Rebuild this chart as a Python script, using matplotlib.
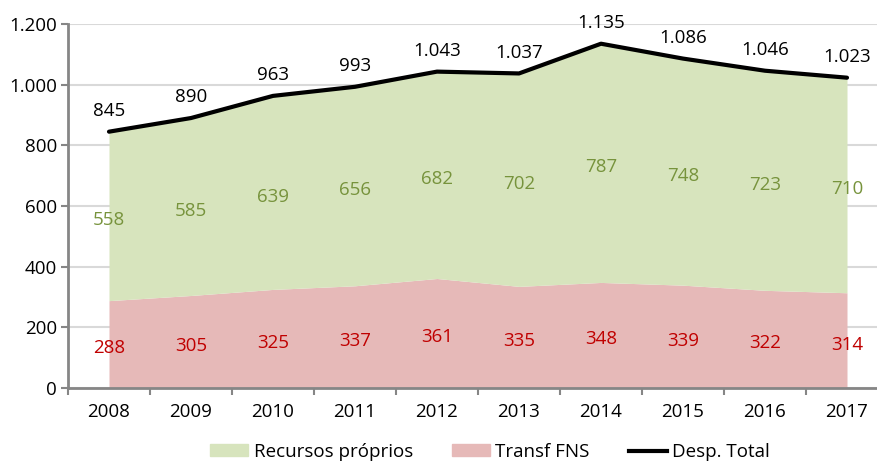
import numpy as np
import matplotlib
matplotlib.use("Agg")
import matplotlib.pyplot as plt
from matplotlib.patches import Patch
from matplotlib.lines import Line2D

plt.rcParams['font.family'] = ['Open Sans', 'DejaVu Sans']

# Despesa com saúde por fonte (R$ milhões)
anos = ["2008", "2009", "2010", "2011", "2012", "2013", "2014", "2015", "2016", "2017"]
transf_fns = [288, 305, 325, 337, 361, 335, 348, 339, 322, 314]
recursos_proprios = [558, 585, 639, 656, 682, 702, 787, 748, 723, 710]
desp_total = [845, 890, 963, 993, 1043, 1037, 1135, 1086, 1046, 1023]
yticks = [0, 200, 400, 600, 800, 1000, 1200]

cor_verde = "#d7e4bd"
cor_rosa = "#e6b9b8"
cor_txt_verde = "#77933c"
cor_txt_vermelho = "#c00000"
cor_eixo = "#868686"
fs = 13.5


def fmt(v):
    return f"{v:,}".replace(",", ".")


fig = plt.figure(figsize=(8.77, 4.63), dpi=100)
ax = fig.add_axes([68 / 877, 75 / 463, 820 / 877, 364 / 463])

x = np.arange(len(anos))
base = np.array(transf_fns)
topo = base + np.array(recursos_proprios)

ax.fill_between(x, 0, base, color=cor_rosa, lw=0, zorder=2)
ax.fill_between(x, base, topo, color=cor_verde, lw=0, zorder=2)
ax.plot(x, desp_total, color="black", lw=3, solid_capstyle="round", zorder=4)

# rótulos de valores
for i in x:
    ax.annotate(fmt(transf_fns[i]), (i, base[i] / 2), xytext=(0, -3),
                textcoords="offset points", ha="center", va="center",
                color=cor_txt_vermelho, fontsize=fs, zorder=5)
    ax.annotate(fmt(recursos_proprios[i]), (i, base[i] + recursos_proprios[i] / 2),
                xytext=(0, -3), textcoords="offset points", ha="center", va="center",
                color=cor_txt_verde, fontsize=fs, zorder=5)
    ax.annotate(fmt(desp_total[i]), (i, desp_total[i]), xytext=(0, 15),
                textcoords="offset points", ha="center", va="center",
                fontsize=fs, color="black", zorder=5)

ax.set_xlim(-0.5, len(anos) - 0.5)
ax.set_ylim(0, 1200)
ax.set_yticks(yticks, [fmt(v) for v in yticks])
ax.set_xticks(x, anos)
ax.set_xticks(np.arange(-0.5, len(anos)), minor=True)

ax.grid(axis="y", color="#d9d9d9", lw=1.5, zorder=0)
ax.set_axisbelow(True)
for s in ["top", "right"]:
    ax.spines[s].set_visible(False)
for s in ["left", "bottom"]:
    ax.spines[s].set_color(cor_eixo)
    ax.spines[s].set_linewidth(2)
    ax.spines[s].set_zorder(6)

ax.tick_params(axis="y", length=5, width=1.5, color=cor_eixo, pad=3, labelsize=fs)
ax.tick_params(axis="x", which="major", length=0, pad=11, labelsize=fs)
ax.tick_params(axis="x", which="minor", length=5, width=1.5, color=cor_eixo)

handles = [Patch(color=cor_verde, label="Recursos próprios"),
           Patch(color=cor_rosa, label="Transf FNS"),
           Line2D([], [], color="black", lw=3, label="Desp. Total")]
fig.legend(handles=handles, loc="center", bbox_to_anchor=(0.559, 0.024), ncol=3,
           frameon=False, fontsize=fs, handlelength=2.0, handleheight=0.6,
           handletextpad=0.3, columnspacing=2.1)

fig.savefig("out.png", dpi=100)
